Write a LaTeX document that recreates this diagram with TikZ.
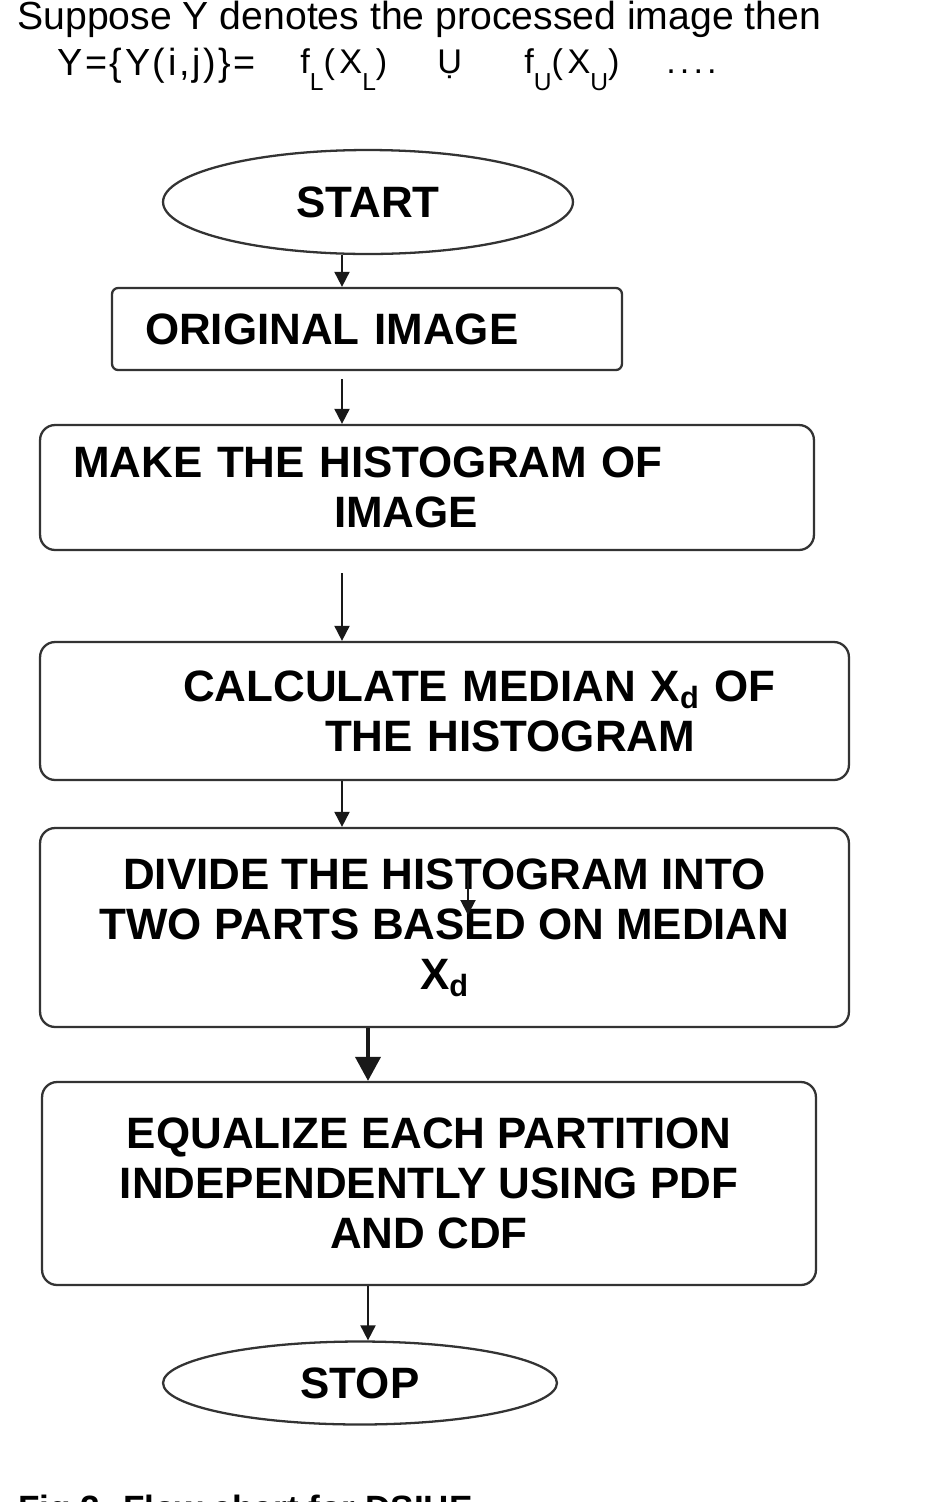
\documentclass[tikz,border=0pt]{standalone}
\usepackage{fontspec}
\setmainfont{Liberation Sans}
\usetikzlibrary{positioning, shapes.geometric, arrows.meta}
\newcommand{\subdn}[1]{\raisebox{-10pt}{\fontsize{14}{14}\selectfont #1}}
\newcommand{\boxfont}{\bfseries\fontsize{25}{28.5}\selectfont}

\begin{document}
\begin{tikzpicture}[
    % GLOBAL CFG
    x=0.02cm, y=-0.02cm,
    % Styles
    headtext/.style={% For the heading lines
        inner sep=0pt,
        anchor=base west,
        font=\fontsize{22.3}{24}\selectfont,
        },
    eqtext/.style={% For the pieces of the formula
        inner sep=0pt,
        anchor=base west,
        font=\fontsize{19.5}{22}\selectfont\addfontfeature{LetterSpace=13},
        },
    term/.style={% For start and stop
        ellipse,
        draw=black!80,
        line width=1.3pt,
        inner sep=0pt,
        font=\boxfont,
        },
    stepbox/.style={% For the process boxes
        rectangle,
        rounded corners=0.3cm,
        draw=black!80,
        line width=1.3pt,
        inner sep=0pt,
        font=\boxfont,
        },
    flow/.style={% Thin arrows
        -{Triangle[length=0.3cm, width=0.3cm]},
        line width=1.1pt,
        black!90,
        },
    flowbold/.style={% Thick arrow
        -{Triangle[length=0.48cm, width=0.5cm]},
        line width=2.2pt,
        black!90,
        },
    ]

    \useasboundingbox (0,0) rectangle (947,1502);

    % Heading
    \node[headtext] (head) at (17,29) {Suppose Y denotes the processed image then};
    \node[headtext, font=\fontsize{21.5}{24}\selectfont\addfontfeature{LetterSpace=7}] (eqY) at (57,75) {Y=\{Y(i,j)\}=};
    \node[eqtext] (eqL) at (300,73) {f\subdn{L}(X\subdn{L})};
    \node[eqtext] (eqcup) at (437,73) {Ụ};
    \node[eqtext] (eqU) at (524,73) {f\subdn{U}(X\subdn{U})};
    \node[eqtext, font=\fontsize{19.5}{22}\selectfont\addfontfeature{LetterSpace=12}] (eqdots) at (666,73) {....};

    % Spines for the arrows
    \coordinate (spineA) at (342,0);
    \coordinate (spineB) at (368,0);

    % Steps
    \node[term, minimum width=8.2cm, minimum height=2.08cm] (start) at (368,202) {START};
    \node[stepbox, rounded corners=0.12cm, minimum width=10.2cm, minimum height=1.64cm,
        text width=10.2cm, align=left] (orig) at (367,329) {\hspace*{0.66cm}ORIGINAL IMAGE};
    \node[stepbox, minimum width=15.48cm, minimum height=2.5cm, text width=15.48cm,
        align=left] (make) at (427,487.5) {\hspace*{0.66cm}MAKE THE HISTOGRAM OF\\\hspace*{5.88cm}IMAGE};
    \node[stepbox, minimum width=16.18cm, minimum height=2.76cm, text width=16.18cm,
        align=left] (calc) at (444.5,711) {\hspace*{2.86cm}CALCULATE MEDIAN X\textsubscript{d} OF\\\hspace*{5.7cm}THE HISTOGRAM};
    \node[stepbox, minimum width=16.18cm, minimum height=3.98cm, align=center] (divide) at (444.5,927.5)
        {DIVIDE THE HISTOGRAM INTO\\TWO PARTS BASED ON MEDIAN\\X\textsubscript{d}};
    \node[stepbox, minimum width=15.48cm, minimum height=4.06cm, align=center] (equal) at (429,1183.5)
        {EQUALIZE EACH PARTITION\\INDEPENDENTLY USING PDF\\AND CDF};
    \node[term, minimum width=7.88cm, minimum height=1.66cm] (stop) at (360,1383) {STOP};

    % Caption, cut by the page edge as in the source
    \node[headtext, font=\bfseries\fontsize{20}{24}\selectfont] (caption) at (18,1520) {Fig 2. Flow chart for DSIHE};

    % Arrows
    \draw[flow] (start.south -| spineA) -- (orig.north -| spineA);
    \draw[flow, shorten <=0.16cm] (orig.south -| spineA) -- (make.north -| spineA);
    \draw[flow, shorten <=0.44cm] (make.south -| spineA) -- (calc.north -| spineA);
    \draw[flow] (calc.south -| spineA) -- (divide.north -| spineA);
    \draw[flowbold] (divide.south -| spineB) -- (equal.north -| spineB);
    \draw[flow] (equal.south -| spineB) -- (stop.north -| spineB);

    % Stray arrow inside the divide box
    \coordinate (strayA) at (468,866);
    \coordinate (strayB) at (468,915);
    \draw[flow] (strayA) -- (strayB);

\end{tikzpicture}
\end{document}
